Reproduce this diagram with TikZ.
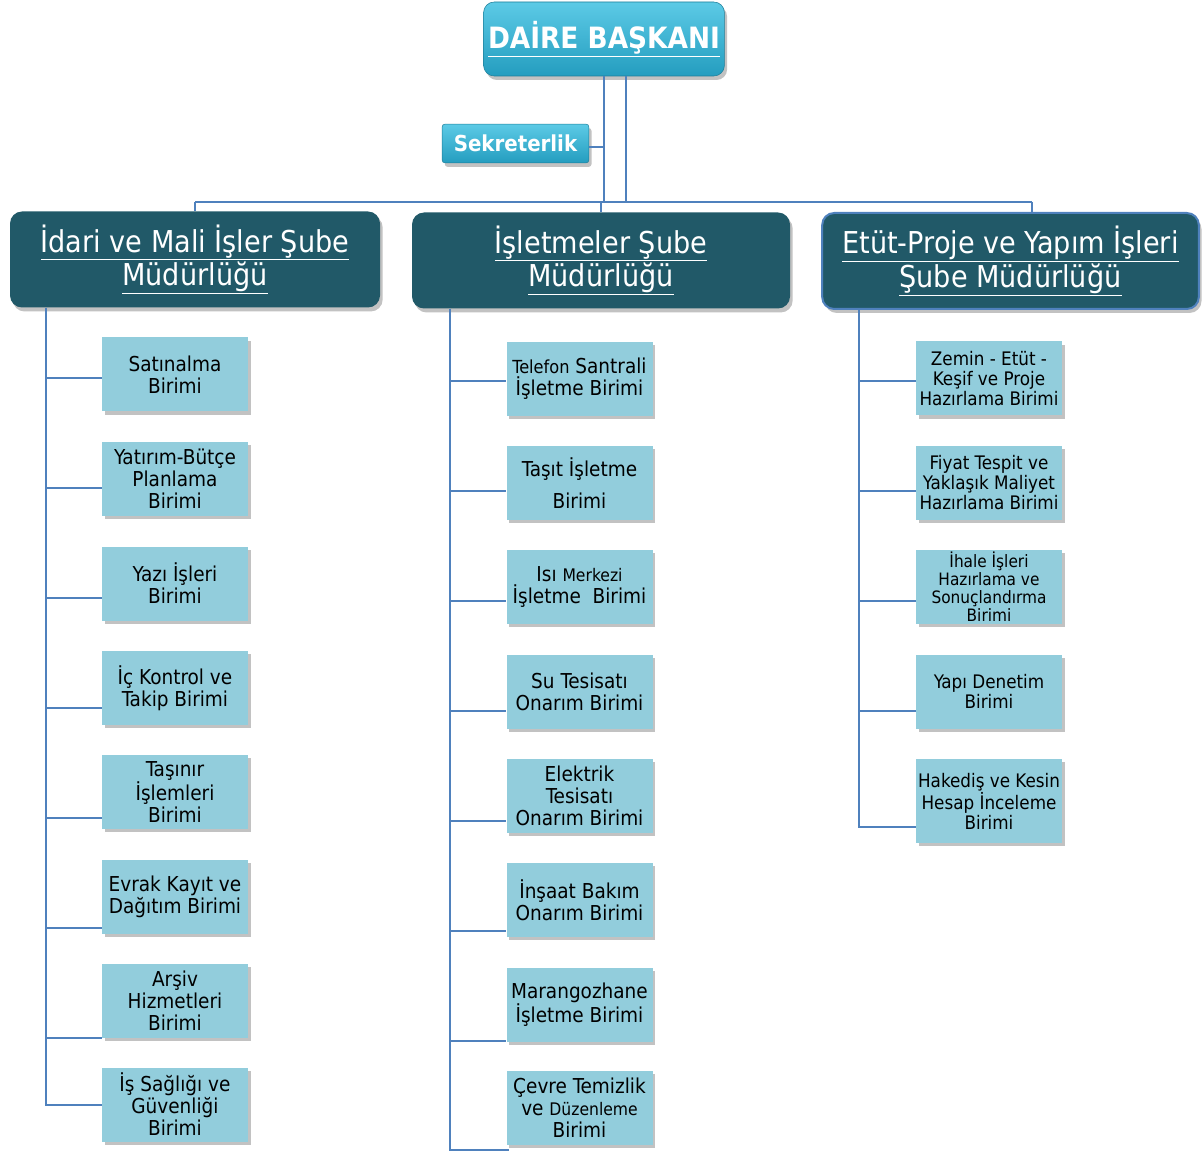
\documentclass[tikz,border=0pt]{standalone}
\usepackage{fontspec}
\setmainfont{DejaVu Sans Condensed}
\usetikzlibrary{shadows}
\definecolor{unitfill}{HTML}{92CDDC}
\definecolor{headfill}{HTML}{215968}
\definecolor{linecol}{HTML}{4F81BD}
\definecolor{toptop}{HTML}{5CCAE6}
\definecolor{topbot}{HTML}{249DBF}
\newcommand\myul[1]{\underline{#1}}
\tikzset{
  conn/.style={draw=linecol, line width=1.5pt},
  unit/.style={fill=unitfill, inner sep=0pt, minimum width=109.5pt, minimum height=55.5pt,
    align=center, font=\fontsize{15.4}{16.5}\selectfont, text=black,
    drop shadow={shadow xshift=2pt, shadow yshift=-2.5pt, opacity=0.4, fill=black!60}},
  unitsm/.style={unit, font=\fontsize{14}{15}\selectfont},
  head/.style={fill=headfill, rounded corners=9pt, align=center, text=white,
    font=\fontsize{22.6}{23.5}\selectfont, minimum height=72pt,
    drop shadow={shadow xshift=2pt, shadow yshift=-3pt, opacity=0.4, fill=black!60}},
  top/.style={top color=toptop, bottom color=topbot, rounded corners=8pt, text=white,
    draw=topbot!80!black, line width=0.4pt,
    drop shadow={shadow xshift=2pt, shadow yshift=-3pt, opacity=0.4, fill=black!60}},
}
\begin{document}
\begin{tikzpicture}[x=0.75pt, y=-0.75pt]
\useasboundingbox (0,0) rectangle (1202,1151);
% top
\node[top, minimum width=178.5pt, minimum height=55.5pt, font=\bfseries\fontsize{22}{24}\selectfont] (D) at (604,39) {\myul{DAİRE BAŞKANI}};
\node[top, rounded corners=2pt, minimum width=110pt, minimum height=29pt, font=\bfseries\fontsize{16.5}{18}\selectfont] (S) at (515.5,143.5) {Sekreterlik};
% heads
\node[head, minimum width=277.5pt] (L) at (195,259.5) {\myul{İdari ve Mali İşler Şube}\\\myul{Müdürlüğü}};
\node[head, minimum width=283.5pt] (M) at (601,260.5) {\myul{İşletmeler Şube}\\\myul{Müdürlüğü}};
\node[head, minimum width=282.5pt, draw=linecol, line width=1.5pt] (R) at (1010.5,261) {\myul{Etüt-Proje ve Yapım İşleri}\\\myul{Şube Müdürlüğü}};
% top connectors
\coordinate (j1) at (604,202);
\coordinate (j2) at (626,202);
\coordinate (hl) at (195,202);
\coordinate (hr) at (1032,202);
\draw[conn] (D.south -| j1) -- (j1);
\draw[conn] (D.south -| j2) -- (j2);
\draw[conn] (hl) -- (hr);
\draw[conn] (hl) -- (L.north -| hl);
\draw[conn] (601,202) -- (M.north -| 601,0);
\draw[conn] (hr) -- (R.north -| hr);
\draw[conn] (S.east |- 0,147) -- (j1 |- 0,147);
% left units
\node[unit] (l1) at (175,374.5) {Satınalma\\Birimi};
\node[unit] (l2) at (175,479) {Yatırım-Bütçe\\Planlama\\Birimi};
\node[unit] (l3) at (175,583.5) {Yazı İşleri\\Birimi};
\node[unit] (l4) at (175,688) {İç Kontrol ve\\Takip Birimi};
\node[unit] (l5) at (175,792) {Taşınır\\İşlemleri\\Birimi};
\node[unit] (l6) at (175,897) {Evrak Kayıt ve\\Dağıtım Birimi};
\node[unit] (l7) at (175,1001) {Arşiv\\Hizmetleri\\Birimi};
\node[unit] (l8) at (175,1104.5) {İş Sağlığı ve\\Güvenliği\\Birimi};
\coordinate (ls) at (L.south -| 46,0);
\draw[conn] (ls) |- (l8.west |- 0,1105);
\foreach \n/\y in {l1/378,l2/488,l3/598,l4/708,l5/818,l6/928,l7/1038}
  \draw[conn] (ls |- 0,\y) -- (\n.west |- 0,\y);
% middle units
\node[unit] (m1) at (579.5,379) {{\fontsize{13.5}{15}\selectfont Telefon} Santrali\\İşletme Birimi};
\node[unit] (m2) at (579.5,483) {Taşıt İşletme\\[7pt]Birimi};
\node[unit] (m3) at (579.5,587) {Isı {\fontsize{13}{15}\selectfont Merkezi}\\İşletme~ Birimi};
\node[unit] (m4) at (579.5,691.5) {Su Tesisatı\\Onarım Birimi};
\node[unit] (m5) at (579.5,796) {Elektrik\\Tesisatı\\Onarım Birimi};
\node[unit] (m6) at (579.5,900) {İnşaat Bakım\\Onarım Birimi};
\node[unit] (m7) at (579.5,1004.5) {Marangozhane\\İşletme Birimi};
\node[unit] (m8) at (579.5,1108) {Çevre Temizlik\\ve {\fontsize{13}{15}\selectfont Düzenleme}\\Birimi};
\coordinate (ms) at (M.south -| 450,0);
\draw[conn] (ms) |- ([xshift=2pt]m8.west |- 0,1150);
\foreach \n/\y in {m1/381,m2/491,m3/601,m4/711,m5/821,m6/931,m7/1041}
  \draw[conn] (ms |- 0,\y) -- (\n.west |- 0,\y);
% right units
\node[unitsm] (r1) at (989,378.5) {Zemin - Etüt -\\Keşif ve Proje\\Hazırlama Birimi};
\node[unitsm] (r2) at (989,482.5) {Fiyat Tespit ve\\Yaklaşık Maliyet\\Hazırlama Birimi};
\node[unit, font=\fontsize{12.8}{13.5}\selectfont] (r3) at (989,587) {İhale İşleri\\Hazırlama ve\\Sonuçlandırma\\Birimi};
\node[unitsm] (r4) at (989,691.5) {Yapı Denetim\\Birimi};
\node[unitsm, minimum height=63pt] (r5) at (989,801) {Hakediş ve Kesin\\Hesap İnceleme\\Birimi};
\coordinate (rs) at (R.south -| 859,0);
\draw[conn] (rs) |- (r5.west |- 0,827);
\foreach \n/\y in {r1/381,r2/491,r3/601,r4/711}
  \draw[conn] (rs |- 0,\y) -- (\n.west |- 0,\y);
\end{tikzpicture}
\end{document}
